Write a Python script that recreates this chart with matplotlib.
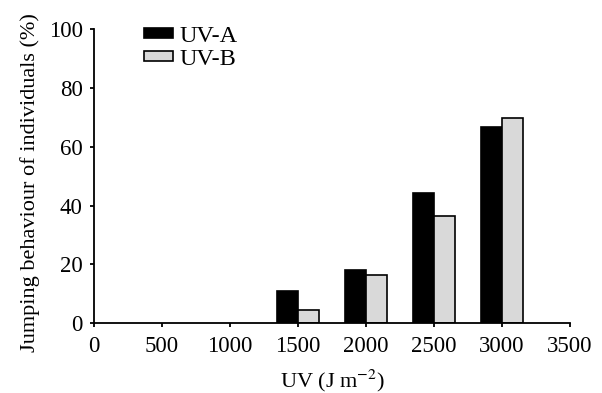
import numpy as np
import matplotlib
matplotlib.use('Agg')
import matplotlib.pyplot as plt

plt.rcParams['font.family'] = ['Liberation Serif', 'DejaVu Serif']
plt.rcParams['mathtext.fontset'] = 'stix'

# UV dose (J m^-2) and percentage of jumping individuals
doses = [1500, 2000, 2500, 3000]
uva = [11, 18.2, 44.4, 66.8]
uvb = [4.5, 16.5, 36.3, 69.9]

width = 155

fig = plt.figure(figsize=(6.02, 3.93), dpi=100)
ax = fig.add_axes([0.156, 0.178, 0.791, 0.747])

x = np.array(doses)
ax.bar(x - width / 2, uva, width, color='black', edgecolor='black',
       linewidth=1.2, label='UV-A')
ax.bar(x + width / 2, uvb, width, color='#d9d9d9', edgecolor='black',
       linewidth=1.2, label='UV-B')

ax.set_xlim(0, 3500)
ax.set_ylim(0, 100)
ax.set_xticks(np.arange(0, 3501, 500))
ax.set_yticks(np.arange(0, 101, 20))
for s in ['top', 'right']:
    ax.spines[s].set_visible(False)
for s in ['left', 'bottom']:
    ax.spines[s].set_linewidth(1.3)
ax.tick_params(direction='out', length=3, width=1.3, labelsize=16.5)
ax.tick_params(axis='x', pad=6)
ax.tick_params(axis='y', pad=5)

ax.set_xlabel(r'UV (J m$^{-2}$)', fontsize=16, labelpad=8)
ax.set_ylabel('Jumping behaviour of individuals (%)', fontsize=16, labelpad=6,
              y=0.48)

ax.legend(loc='upper left', bbox_to_anchor=(0.085, 1.045), frameon=False,
          fontsize=17.5, handlelength=1.2, handleheight=0.26,
          labelspacing=0.08, handletextpad=0.25, borderaxespad=0)

fig.savefig('out.png', dpi=100)
